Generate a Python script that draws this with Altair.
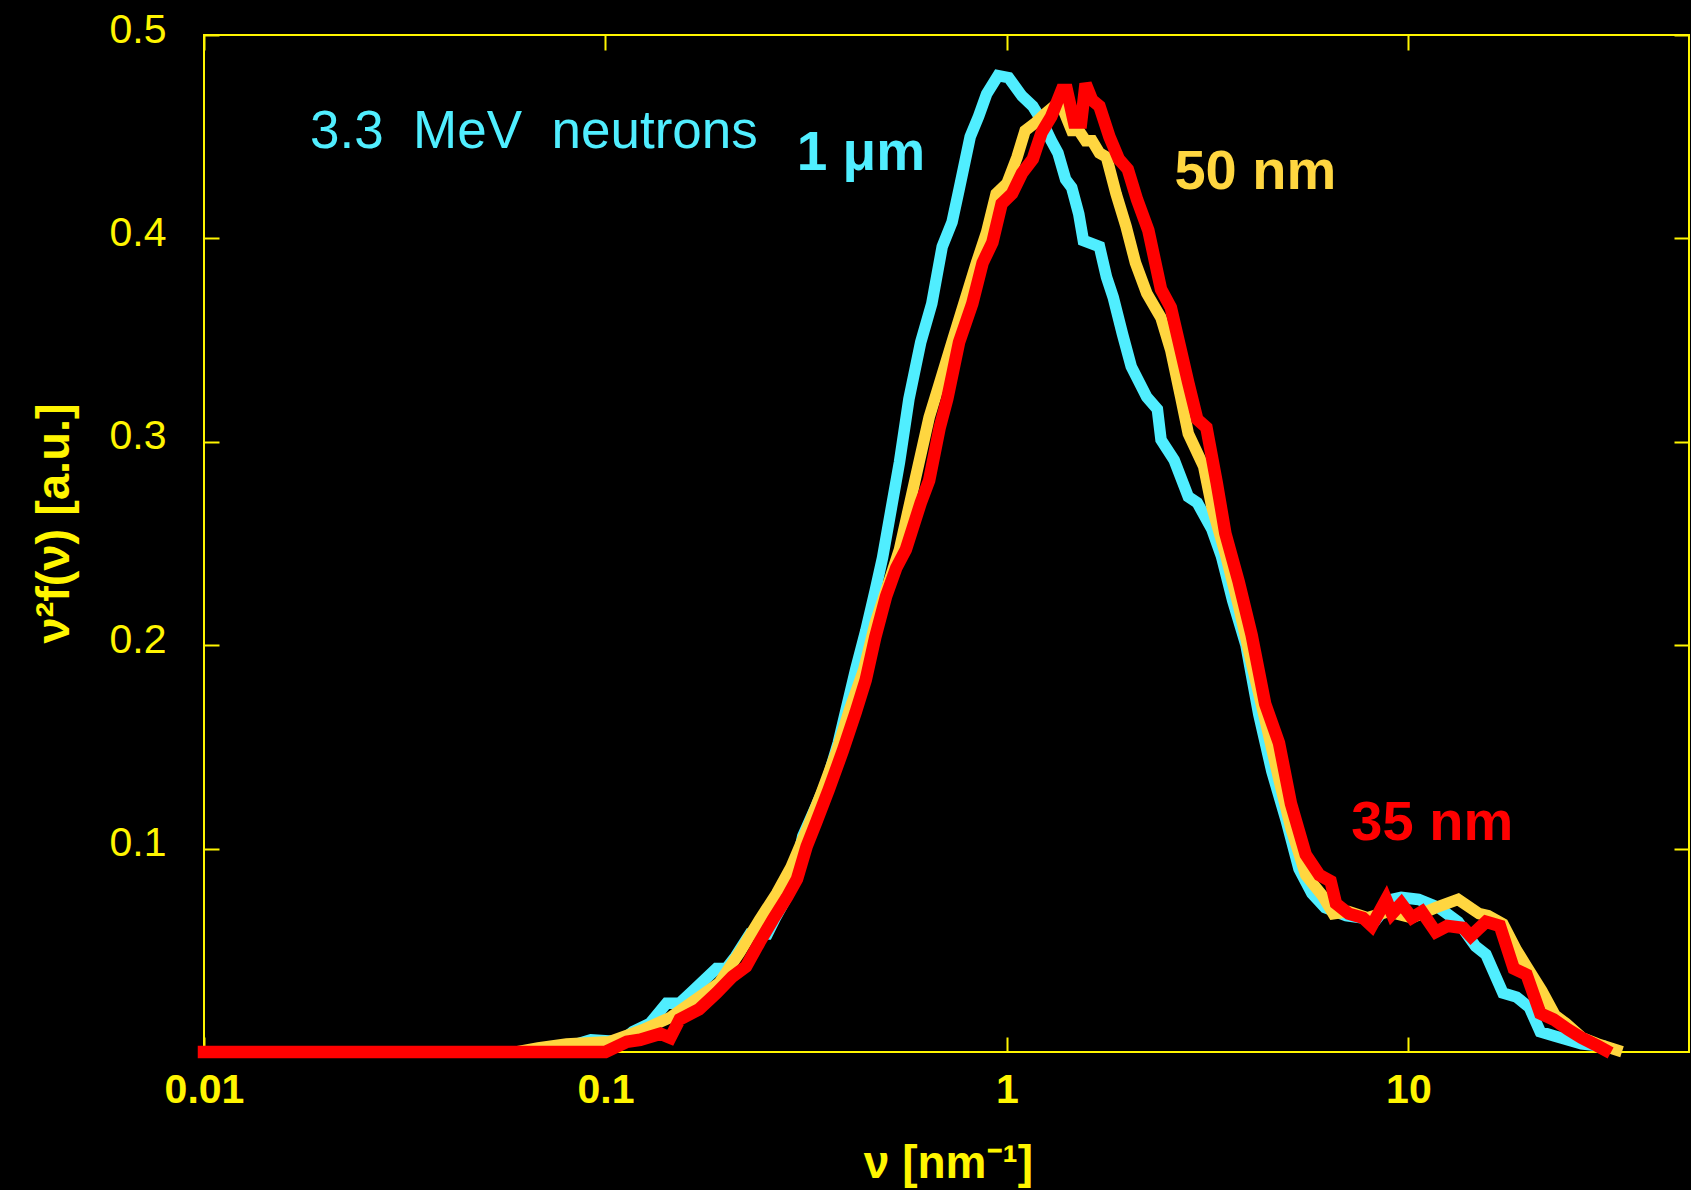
import altair as alt
import pandas as pd

# ---------------- data ----------------
nu_1um = [0.01, 0.05, 0.075, 0.085, 0.092, 0.109, 0.117, 0.129, 0.142, 0.153, 0.165, 0.189, 0.2,
          0.211, 0.229, 0.253, 0.265, 0.29, 0.31, 0.335, 0.357, 0.38, 0.42, 0.445, 0.47, 0.49,
          0.54, 0.57, 0.61, 0.65, 0.69, 0.73, 0.76, 0.81, 0.85, 0.89, 0.95, 1.01, 1.09, 1.16,
          1.22, 1.29, 1.34, 1.40, 1.45, 1.51, 1.55, 1.70, 1.77, 1.84, 1.94, 2.04, 2.23, 2.37,
          2.42, 2.61, 2.83, 2.98, 3.24, 3.42, 3.65, 3.94, 4.24, 4.57, 4.96, 5.34, 5.75, 6.2,
          7.0, 8.3, 9.1, 9.6, 10.6, 11.9, 13.3, 14.7, 15.6, 17.2, 18.6, 20.0, 21.3, 23.0, 27.0, 30.0]
val_1um = [0.0, 0.0, 0.0, 0.004, 0.006, 0.005, 0.010, 0.014, 0.024, 0.024, 0.030, 0.041, 0.041,
           0.047, 0.058, 0.058, 0.066, 0.080, 0.106, 0.121, 0.134, 0.152, 0.188, 0.207, 0.227, 0.243,
           0.290, 0.321, 0.349, 0.368, 0.396, 0.408, 0.424, 0.450, 0.460, 0.471, 0.480, 0.479, 0.470, 0.465,
           0.458, 0.448, 0.442, 0.429, 0.425, 0.412, 0.399, 0.396, 0.381, 0.371, 0.353, 0.337, 0.322, 0.316,
           0.301, 0.291, 0.273, 0.270, 0.257, 0.244, 0.222, 0.200, 0.166, 0.138, 0.114, 0.090, 0.078, 0.071,
           0.067, 0.065, 0.075, 0.076, 0.075, 0.071, 0.064, 0.052, 0.048, 0.029, 0.027, 0.022, 0.010, 0.008,
           0.004, 0.003]

nu_50nm = [0.01, 0.06, 0.068, 0.08, 0.102, 0.124, 0.145, 0.171, 0.192, 0.216, 0.242, 0.267, 0.29,
           0.317, 0.343, 0.377, 0.405, 0.44, 0.47, 0.51, 0.54, 0.59, 0.64, 0.68, 0.73, 0.79, 0.84,
           0.89, 0.94, 1.0, 1.06, 1.11, 1.18, 1.24, 1.33, 1.37, 1.45, 1.51, 1.57, 1.63, 1.70, 1.77,
           1.87, 1.98, 2.09, 2.23, 2.42, 2.56, 2.71, 2.83, 3.09, 3.24, 3.5, 3.78, 4.07, 4.4, 4.76,
           5.1, 5.55, 6.1, 6.5, 7.1, 7.9, 8.9, 10.2, 11.7, 13.3, 15.0, 15.8, 17.2, 18.6, 19.7, 21.5,
           23.2, 24.7, 27.1, 29.6, 33.0]
val_50nm = [0.0, 0.0, 0.002, 0.004, 0.005, 0.011, 0.017, 0.027, 0.034, 0.049, 0.065, 0.078, 0.091,
            0.109, 0.126, 0.148, 0.168, 0.188, 0.211, 0.232, 0.247, 0.281, 0.312, 0.329, 0.349, 0.371, 0.388,
            0.403, 0.422, 0.427, 0.440, 0.453, 0.457, 0.461, 0.466, 0.465, 0.453, 0.453, 0.448, 0.448, 0.442, 0.440,
            0.422, 0.406, 0.388, 0.373, 0.361, 0.345, 0.322, 0.304, 0.288, 0.268, 0.245, 0.219, 0.191, 0.163, 0.134,
            0.110, 0.087, 0.077, 0.068, 0.069, 0.066, 0.069, 0.066, 0.071, 0.075, 0.068, 0.067, 0.063, 0.050, 0.042, 0.030,
            0.018, 0.014, 0.007, 0.004, 0.001]

nu_35nm = [0.01, 0.1, 0.113, 0.122, 0.137, 0.145, 0.153, 0.171, 0.189, 0.207, 0.224, 0.242, 0.261,
           0.283, 0.30, 0.317, 0.335, 0.36, 0.39, 0.42, 0.445, 0.47, 0.50, 0.53, 0.56, 0.61, 0.64,
           0.68, 0.71, 0.76, 0.82, 0.87, 0.92, 0.97, 1.03, 1.09, 1.16, 1.22, 1.29, 1.37, 1.41, 1.47,
           1.53, 1.57, 1.63, 1.70, 1.80, 1.90, 2.0, 2.11, 2.25, 2.42, 2.56, 2.71, 2.83, 2.98, 3.14,
           3.33, 3.5, 3.78, 4.07, 4.4, 4.76, 5.1, 5.55, 6.0, 6.4, 6.6, 7.1, 7.7, 8.1, 8.8, 9.1, 9.6,
           10.2, 10.8, 11.7, 12.5, 13.7, 14.3, 15.6, 16.9, 18.3, 19.7, 21.3, 23.0, 25.0, 27.0, 29.6, 30.9]
val_35nm = [0.0, 0.0, 0.005, 0.006, 0.009, 0.007, 0.016, 0.021, 0.029, 0.037, 0.042, 0.054, 0.065,
            0.076, 0.085, 0.101, 0.113, 0.129, 0.148, 0.167, 0.183, 0.204, 0.224, 0.238, 0.247, 0.270, 0.281,
            0.307, 0.321, 0.349, 0.368, 0.388, 0.398, 0.417, 0.422, 0.432, 0.439, 0.452, 0.460, 0.473, 0.473, 0.457,
            0.457, 0.476, 0.468, 0.465, 0.450, 0.439, 0.434, 0.419, 0.404, 0.375, 0.366, 0.345, 0.329, 0.311, 0.307,
            0.280, 0.255, 0.231, 0.205, 0.171, 0.152, 0.122, 0.097, 0.087, 0.084, 0.073, 0.068, 0.066, 0.062, 0.075,
            0.068, 0.073, 0.066, 0.069, 0.059, 0.062, 0.061, 0.057, 0.064, 0.062, 0.041, 0.038, 0.019, 0.016, 0.011,
            0.007, 0.003, 0.001]

x_ticks = [0.01, 0.1, 1, 10]
y_ticks = [0.1, 0.2, 0.3, 0.4, 0.5]

ann_text = ["3.3\u00a0\u00a0MeV\u00a0\u00a0neutrons", "1 \u03bcm", "50 nm", "35 nm"]
ann_nu = [0.01836, 0.2995, 2.613, 7.21]
ann_val = [0.4444, 0.4336, 0.4243, 0.1042]

# ---------------- styling ----------------
YEL = "#FFF500"
CYAN = "#50EEFF"
GOLD = "#FFD640"
RED = "#FF0000"
FONT = "Liberation Sans"

xscale = alt.Scale(type="log", domain=[0.01, 50], nice=False)
yscale = alt.Scale(domain=[0, 0.5], nice=False, zero=False)


def series_df(nus, vals):
    return pd.DataFrame({"nu": nus, "val": vals, "i": list(range(len(nus)))})


x_axis_main = alt.Axis(
    values=x_ticks, format="~g", domain=False, grid=False, offset=-15,
    tickSize=15, tickWidth=2, tickColor=YEL,
    labelColor=YEL, labelFont=FONT, labelFontSize=41, labelFontWeight="bold",
    labelPadding=18, labelFlush=False, labelOverlap=False, labelBound=False,
    title="\u03bd [nm\u207b\u00b9]", titleColor=YEL, titleFont=FONT, titleFontSize=46,
    titleFontWeight="bold", titleX=744, titleY=140, titleBaseline="alphabetic", titleAlign="center",
)
y_axis_main = alt.Axis(
    values=y_ticks, format=".1f", domain=False, grid=False, offset=-15,
    tickSize=15, tickWidth=2, tickColor=YEL,
    labelColor=YEL, labelFont=FONT, labelFontSize=41, labelFontWeight="normal",
    labelPadding=38, labelOffset=-5, labelOverlap=False, labelFlush=False, labelBound=False,
    title="\u03bd\u00b2f(\u03bd) [a.u.]", titleColor=YEL, titleFont=FONT, titleFontSize=47,
    titleFontWeight="bold", titleX=-151, titleY=488, titleAngle=270,
    titleBaseline="alphabetic", titleAlign="center",
)


def line_layer(nus, vals, color, width, axes=False):
    enc = dict(
        x=alt.X("nu:Q", scale=xscale, axis=x_axis_main if axes else None),
        y=alt.Y("val:Q", scale=yscale, axis=y_axis_main if axes else None),
        order="i:Q",
    )
    return alt.Chart(series_df(nus, vals)).mark_line(
        color=color, strokeWidth=width, strokeJoin="miter", strokeCap="square", clip=False
    ).encode(**enc)


cyan_line = line_layer(nu_1um, val_1um, CYAN, 11.5, axes=True)
gold_line = line_layer(nu_50nm, val_50nm, GOLD, 11.5)
red_line = line_layer(nu_35nm, val_35nm, RED, 12.5)

# mirrored ticks on top and right
mirror_df = pd.DataFrame({"nu": x_ticks[:1], "val": y_ticks[:1]})
mirror = alt.Chart(mirror_df).mark_point(opacity=0).encode(
    x=alt.X("nu:Q", scale=xscale, axis=alt.Axis(
        orient="top", values=x_ticks, labels=False, domain=False, grid=False, offset=-15,
        tickSize=15, tickWidth=2, tickColor=YEL, title=None)),
    y=alt.Y("val:Q", scale=yscale, axis=alt.Axis(
        orient="right", values=y_ticks, labels=False, domain=False, grid=False, offset=-15,
        tickSize=15, tickWidth=2, tickColor=YEL, title=None)),
)

ann_df = pd.DataFrame({"t": ann_text, "nu": ann_nu, "val": ann_val})


def ann_layer(idx, color, size, weight):
    return alt.Chart(ann_df.iloc[[idx]]).mark_text(
        color=color, font=FONT, fontSize=size, fontWeight=weight,
        align="left", baseline="alphabetic"
    ).encode(
        x=alt.X("nu:Q", scale=xscale, axis=None),
        y=alt.Y("val:Q", scale=yscale, axis=None),
        text="t:N",
    )


anns = [
    ann_layer(0, CYAN, 53, "normal"),
    ann_layer(1, CYAN, 55, "bold"),
    ann_layer(2, GOLD, 56, "bold"),
    ann_layer(3, RED, 56, "bold"),
]

chart = alt.layer(cyan_line, gold_line, red_line, mirror, *anns).resolve_axis(
    x="independent", y="independent"
).properties(
    width=1485, height=1017,
    padding={"left": 204, "top": 35, "right": 2, "bottom": 138},
    autosize=alt.AutoSizeParams(type="none"),
).configure(background="black").configure_view(stroke=YEL, strokeWidth=2)

chart.save("out.html", embed_options={"renderer": "svg", "actions": False})
